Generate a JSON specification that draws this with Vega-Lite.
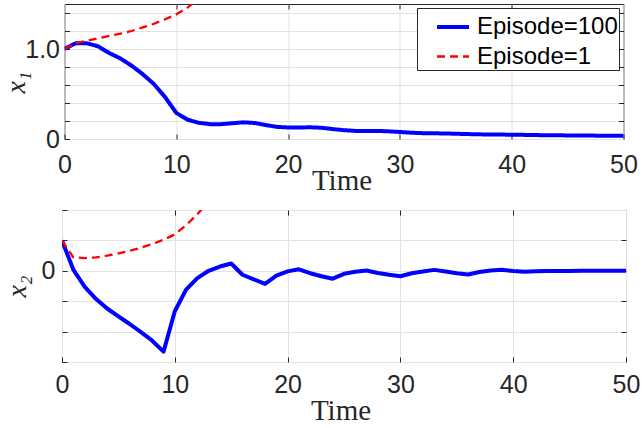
{
  "$schema": "https://vega.github.io/schema/vega-lite/v6.json",
  "padding": {"left": 1, "top": -2, "right": 0, "bottom": 0},
  "background": "white",
  "bounds": "flush",
  "center": true,
  "spacing": 71,
  "config": {
    "view": {"stroke": "#262626", "strokeWidth": 1},
    "axis": {
      "domain": false,
      "grid": true,
      "gridColor": "#e2e2e2",
      "gridWidth": 1,
      "ticks": true,
      "tickSize": -5,
      "tickColor": "#262626",
      "labelFont": "Liberation Sans",
      "labelFontSize": 25,
      "labelColor": "#262626",
      "labelOverlap": false,
      "labelFlush": false,
      "labelBound": false,
      "titleColor": "#262626",
      "titleFontWeight": "normal"
    },
    "legend": {
      "title": null, "orient": "none", "legendX": 355, "legendY": 4,
      "fillColor": "white", "strokeColor": "#262626", "padding": 1,
      "symbolOffset": 17, "symbolSize": 1024, "symbolType": "stroke",
      "labelFont": "Liberation Sans", "labelFontSize": 24, "labelColor": "#000000",
      "labelOffset": 6, "rowPadding": -4, "labelLimit": 300
    }
  },
  "datasets": {
    "x1": [
      {"t": 0, "value": 1.0, "series": "Episode=100"},
      {"t": 1, "value": 1.065, "series": "Episode=100"},
      {"t": 2, "value": 1.063, "series": "Episode=100"},
      {"t": 3, "value": 1.03, "series": "Episode=100"},
      {"t": 4, "value": 0.955, "series": "Episode=100"},
      {"t": 5, "value": 0.895, "series": "Episode=100"},
      {"t": 6, "value": 0.815, "series": "Episode=100"},
      {"t": 7, "value": 0.72, "series": "Episode=100"},
      {"t": 8, "value": 0.61, "series": "Episode=100"},
      {"t": 9, "value": 0.465, "series": "Episode=100"},
      {"t": 10, "value": 0.29, "series": "Episode=100"},
      {"t": 11, "value": 0.215, "series": "Episode=100"},
      {"t": 12, "value": 0.18, "series": "Episode=100"},
      {"t": 13, "value": 0.165, "series": "Episode=100"},
      {"t": 14, "value": 0.165, "series": "Episode=100"},
      {"t": 15, "value": 0.175, "series": "Episode=100"},
      {"t": 16, "value": 0.185, "series": "Episode=100"},
      {"t": 17, "value": 0.178, "series": "Episode=100"},
      {"t": 18, "value": 0.155, "series": "Episode=100"},
      {"t": 19, "value": 0.135, "series": "Episode=100"},
      {"t": 20, "value": 0.128, "series": "Episode=100"},
      {"t": 21, "value": 0.128, "series": "Episode=100"},
      {"t": 22, "value": 0.13, "series": "Episode=100"},
      {"t": 23, "value": 0.125, "series": "Episode=100"},
      {"t": 24, "value": 0.11, "series": "Episode=100"},
      {"t": 25, "value": 0.098, "series": "Episode=100"},
      {"t": 26, "value": 0.09, "series": "Episode=100"},
      {"t": 27, "value": 0.089, "series": "Episode=100"},
      {"t": 28, "value": 0.09, "series": "Episode=100"},
      {"t": 29, "value": 0.085, "series": "Episode=100"},
      {"t": 30, "value": 0.078, "series": "Episode=100"},
      {"t": 31, "value": 0.07, "series": "Episode=100"},
      {"t": 32, "value": 0.065, "series": "Episode=100"},
      {"t": 33, "value": 0.063, "series": "Episode=100"},
      {"t": 34, "value": 0.062, "series": "Episode=100"},
      {"t": 35, "value": 0.058, "series": "Episode=100"},
      {"t": 36, "value": 0.055, "series": "Episode=100"},
      {"t": 37, "value": 0.052, "series": "Episode=100"},
      {"t": 38, "value": 0.05, "series": "Episode=100"},
      {"t": 39, "value": 0.049, "series": "Episode=100"},
      {"t": 40, "value": 0.048, "series": "Episode=100"},
      {"t": 41, "value": 0.046, "series": "Episode=100"},
      {"t": 42, "value": 0.044, "series": "Episode=100"},
      {"t": 43, "value": 0.042, "series": "Episode=100"},
      {"t": 44, "value": 0.041, "series": "Episode=100"},
      {"t": 45, "value": 0.04, "series": "Episode=100"},
      {"t": 46, "value": 0.039, "series": "Episode=100"},
      {"t": 47, "value": 0.038, "series": "Episode=100"},
      {"t": 48, "value": 0.037, "series": "Episode=100"},
      {"t": 49, "value": 0.036, "series": "Episode=100"},
      {"t": 50, "value": 0.035, "series": "Episode=100"},
      {"t": 0, "value": 1.0, "series": "Episode=1"},
      {"t": 1, "value": 1.065, "series": "Episode=1"},
      {"t": 2, "value": 1.092, "series": "Episode=1"},
      {"t": 3, "value": 1.12, "series": "Episode=1"},
      {"t": 4, "value": 1.145, "series": "Episode=1"},
      {"t": 5, "value": 1.17, "series": "Episode=1"},
      {"t": 6, "value": 1.2, "series": "Episode=1"},
      {"t": 7, "value": 1.24, "series": "Episode=1"},
      {"t": 8, "value": 1.28, "series": "Episode=1"},
      {"t": 9, "value": 1.33, "series": "Episode=1"},
      {"t": 10, "value": 1.385, "series": "Episode=1"},
      {"t": 11, "value": 1.46, "series": "Episode=1"},
      {"t": 12, "value": 1.56, "series": "Episode=1"}
    ],
    "x2a": [
      {"t": 0, "value": 0.5}, {"t": 1, "value": 0.02}, {"t": 2, "value": -0.26},
      {"t": 3, "value": -0.46}, {"t": 4, "value": -0.62}, {"t": 5, "value": -0.75},
      {"t": 6, "value": -0.875}, {"t": 7, "value": -1.01}, {"t": 8, "value": -1.15},
      {"t": 9, "value": -1.33}, {"t": 10, "value": -0.665}, {"t": 11, "value": -0.31},
      {"t": 12, "value": -0.12}, {"t": 13, "value": 0.0}, {"t": 14, "value": 0.07},
      {"t": 15, "value": 0.12}, {"t": 16, "value": -0.065}, {"t": 17, "value": -0.14},
      {"t": 18, "value": -0.215}, {"t": 19, "value": -0.08}, {"t": 20, "value": -0.01},
      {"t": 21, "value": 0.025}, {"t": 22, "value": -0.04}, {"t": 23, "value": -0.09},
      {"t": 24, "value": -0.13}, {"t": 25, "value": -0.05}, {"t": 26, "value": -0.015},
      {"t": 27, "value": 0.005}, {"t": 28, "value": -0.035}, {"t": 29, "value": -0.065},
      {"t": 30, "value": -0.09}, {"t": 31, "value": -0.04}, {"t": 32, "value": -0.01},
      {"t": 33, "value": 0.015}, {"t": 34, "value": -0.01}, {"t": 35, "value": -0.04},
      {"t": 36, "value": -0.06}, {"t": 37, "value": -0.02}, {"t": 38, "value": 0.005},
      {"t": 39, "value": 0.017}, {"t": 40, "value": -0.005}, {"t": 41, "value": -0.015},
      {"t": 42, "value": -0.008}, {"t": 43, "value": -0.005}, {"t": 44, "value": -0.003},
      {"t": 45, "value": -0.002}, {"t": 46, "value": 0.0}, {"t": 47, "value": 0.0},
      {"t": 48, "value": 0.0}, {"t": 49, "value": 0.0}, {"t": 50, "value": 0.0}
    ],
    "x2b": [
      {"t": 0, "value": 0.5}, {"t": 1, "value": 0.22}, {"t": 2, "value": 0.21},
      {"t": 3, "value": 0.22}, {"t": 4, "value": 0.25}, {"t": 5, "value": 0.285},
      {"t": 6, "value": 0.33}, {"t": 7, "value": 0.38}, {"t": 8, "value": 0.44},
      {"t": 9, "value": 0.51}, {"t": 10, "value": 0.6}, {"t": 11, "value": 0.75},
      {"t": 12, "value": 0.93}, {"t": 13, "value": 1.15}
    ]
  },
  "vconcat": [
    {
      "width": 559,
      "height": 135,
      "layer": [
        {
          "data": {"name": "x1"},
          "mark": {"type": "line", "clip": true, "strokeJoin": "round"},
          "encoding": {
            "x": {
              "field": "t", "type": "quantitative",
              "scale": {"domain": [0, 50], "nice": false, "zero": false},
              "axis": {
                "values": [0, 10, 20, 30, 40, 50], "format": "d", "labelPadding": 18,
                "title": "Time", "titleFont": "Liberation Serif", "titleFontSize": 29,
                "titleX": 277, "titleY": 50, "titleBaseline": "alphabetic", "titleAlign": "center"
              }
            },
            "y": {
              "field": "value", "type": "quantitative",
              "scale": {"domain": [0, 1.5], "nice": false},
              "axis": {
                "values": [0, 0.2, 0.4, 0.6, 0.8, 1.0, 1.2, 1.4],
                "labelExpr": "datum.value == 0 ? '0' : (abs(datum.value - 1) < 0.001 ? '1.0' : '')",
                "labelPadding": 10,
                "title": "x₁", "titleFont": "Liberation Serif", "titleFontStyle": "italic", "titleFontSize": 28,
                "titleX": -48, "titleY": 78, "titleAngle": -90, "titleAlign": "center", "titleBaseline": "middle"
              }
            },
            "color": {
              "field": "series", "type": "nominal",
              "scale": {"domain": ["Episode=100", "Episode=1"], "range": ["#0000ff", "#ff0000"]}
            },
            "strokeDash": {
              "field": "series", "type": "nominal",
              "scale": {"domain": ["Episode=100", "Episode=1"], "range": [[1, 0], [8, 5]]}
            },
            "strokeWidth": {
              "field": "series", "type": "nominal",
              "scale": {"type": "ordinal", "domain": ["Episode=100", "Episode=1"], "range": [4, 2.3]}
            }
          }
        },
        {
          "data": {"name": "x1"},
          "mark": {"type": "line", "opacity": 0},
          "encoding": {
            "x": {"field": "t", "type": "quantitative", "axis": {"orient": "top", "values": [10, 20, 30, 40], "labels": false, "grid": false, "title": null}},
            "y": {"field": "value", "type": "quantitative", "axis": {"orient": "right", "values": [0.2, 0.4, 0.6, 0.8, 1.0, 1.2, 1.4], "labels": false, "grid": false, "title": null}},
            "detail": {"field": "series"}
          }
        }
      ],
      "resolve": {"axis": {"x": "independent", "y": "independent"}}
    },
    {
      "width": 564,
      "height": 152,
      "layer": [
        {
          "data": {"name": "x2a"},
          "mark": {"type": "line", "clip": true, "color": "#0000ff", "strokeWidth": 4, "strokeJoin": "round"},
          "encoding": {
            "x": {
              "field": "t", "type": "quantitative",
              "scale": {"domain": [0, 50], "nice": false, "zero": false},
              "axis": {
                "values": [0, 10, 20, 30, 40, 50], "format": "d", "labelPadding": 15,
                "title": "Time", "titleFont": "Liberation Serif", "titleFontSize": 29,
                "titleX": 278.5, "titleY": 57, "titleBaseline": "alphabetic", "titleAlign": "center"
              }
            },
            "y": {
              "field": "value", "type": "quantitative",
              "scale": {"domain": [-1.5, 1.0], "nice": false, "zero": false},
              "axis": {
                "values": [-1.5, -1.0, -0.5, 0, 0.5, 1.0],
                "labelExpr": "datum.value == 0 ? '0' : ''",
                "labelPadding": 12,
                "title": "x₂", "titleFont": "Liberation Serif", "titleFontStyle": "italic", "titleFontSize": 28,
                "titleX": -45, "titleY": 76, "titleAngle": -90, "titleAlign": "center", "titleBaseline": "middle"
              }
            }
          }
        },
        {
          "data": {"name": "x2b"},
          "mark": {"type": "line", "clip": true, "color": "#ff0000", "strokeWidth": 2.3, "strokeDash": [8, 5]},
          "encoding": {
            "x": {"field": "t", "type": "quantitative", "axis": null},
            "y": {"field": "value", "type": "quantitative", "axis": null}
          }
        },
        {
          "data": {"name": "x2a"},
          "mark": {"type": "line", "opacity": 0},
          "encoding": {
            "x": {"field": "t", "type": "quantitative", "axis": {"orient": "top", "values": [10, 20, 30, 40], "labels": false, "grid": false, "title": null}},
            "y": {"field": "value", "type": "quantitative", "axis": {"orient": "right", "values": [-1.0, -0.5, 0, 0.5], "labels": false, "grid": false, "title": null}}
          }
        }
      ],
      "resolve": {"axis": {"x": "independent", "y": "independent"}}
    }
  ]
}
